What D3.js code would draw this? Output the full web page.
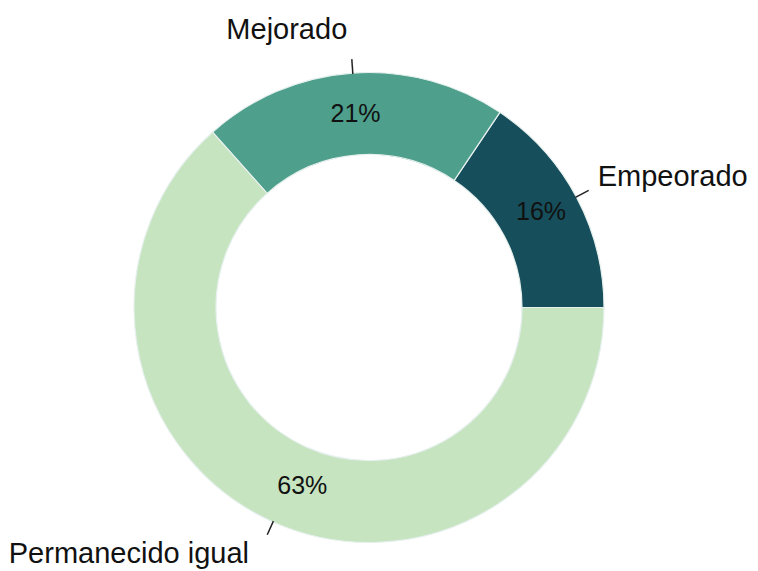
<!DOCTYPE html>
<html><head><meta charset="utf-8">
<script src="https://cdn.jsdelivr.net/npm/d3@7"></script>
<style>body{margin:0;background:#fff}svg{display:block}text{font-family:"Liberation Sans",Arial,sans-serif;fill:#111}</style>
</head><body>
<script>
const categories = ["Empeorado", "Mejorado", "Permanecido igual"];
const values = [15.6, 21.0, 63.4];
const colors = ["#164f5b", "#4e9f8c", "#c7e4c0"];

const W = 758, H = 571, cx = 369, cy = 307.5, R = 235, r0 = 153;
const svg = d3.select("body").append("svg").attr("width", W).attr("height", H);
const g = svg.append("g").attr("transform", `translate(${cx},${cy})`);

const data = categories.map((c, i) => ({cat: c, value: values[i], color: colors[i]}));
const pie = d3.pie().sort(null).value(d => d.value)
  .startAngle(Math.PI / 2).endAngle(Math.PI / 2 - 2 * Math.PI);
const arcs = pie(data);
const arc = d3.arc().innerRadius(r0).outerRadius(R);

g.selectAll("path.slice").data(arcs).join("path")
  .attr("class", "slice").attr("d", arc)
  .attr("fill", d => d.data.color)
  .attr("stroke", "#e6f0ee").attr("stroke-width", 1.2);

const total = d3.sum(values);
const pctRad = 195;
const pctNudge = {"Empeorado": [0, -4], "Mejorado": [0, 0], "Permanecido igual": [13, 0]};
g.selectAll("text.pct").data(arcs).join("text")
  .attr("class", "pct")
  .attr("x", d => pctRad * Math.sin((d.startAngle + d.endAngle) / 2) + pctNudge[d.data.cat][0])
  .attr("y", d => -pctRad * Math.cos((d.startAngle + d.endAngle) / 2) + pctNudge[d.data.cat][1])
  .attr("dy", "0.35em").attr("text-anchor", "middle")
  .style("font-size", "25px")
  .text(d => Math.round(d.data.value / total * 100) + "%");

// leader ticks
g.selectAll("line.tick").data(arcs).join("line")
  .attr("class", "tick")
  .each(function(d) {
    const a = (d.startAngle + d.endAngle) / 2;
    d3.select(this)
      .attr("x1", (R - 1) * Math.sin(a)).attr("y1", -(R - 1) * Math.cos(a))
      .attr("x2", (R + 14) * Math.sin(a)).attr("y2", -(R + 14) * Math.cos(a));
  })
  .attr("stroke", "#222").attr("stroke-width", 1.5);

const nudge = {"Empeorado": [2, 0], "Mejorado": [-4, 0], "Permanecido igual": [-15, -9]};
const labRad = R + 22;
g.selectAll("text.lab").data(arcs).join("text")
  .attr("class", "lab")
  .each(function(d) {
    const a = (d.startAngle + d.endAngle) / 2;
    const s = Math.sin(a), c = Math.cos(a);
    const n = nudge[d.data.cat];
    d3.select(this)
      .attr("x", labRad * s + n[0])
      .attr("y", -labRad * c + 10 - 22 * c + n[1])
      .attr("text-anchor", s < 0 ? "end" : "start");
  })
  .style("font-size", "29px")
  .text(d => d.data.cat);
</script>
</body></html>
